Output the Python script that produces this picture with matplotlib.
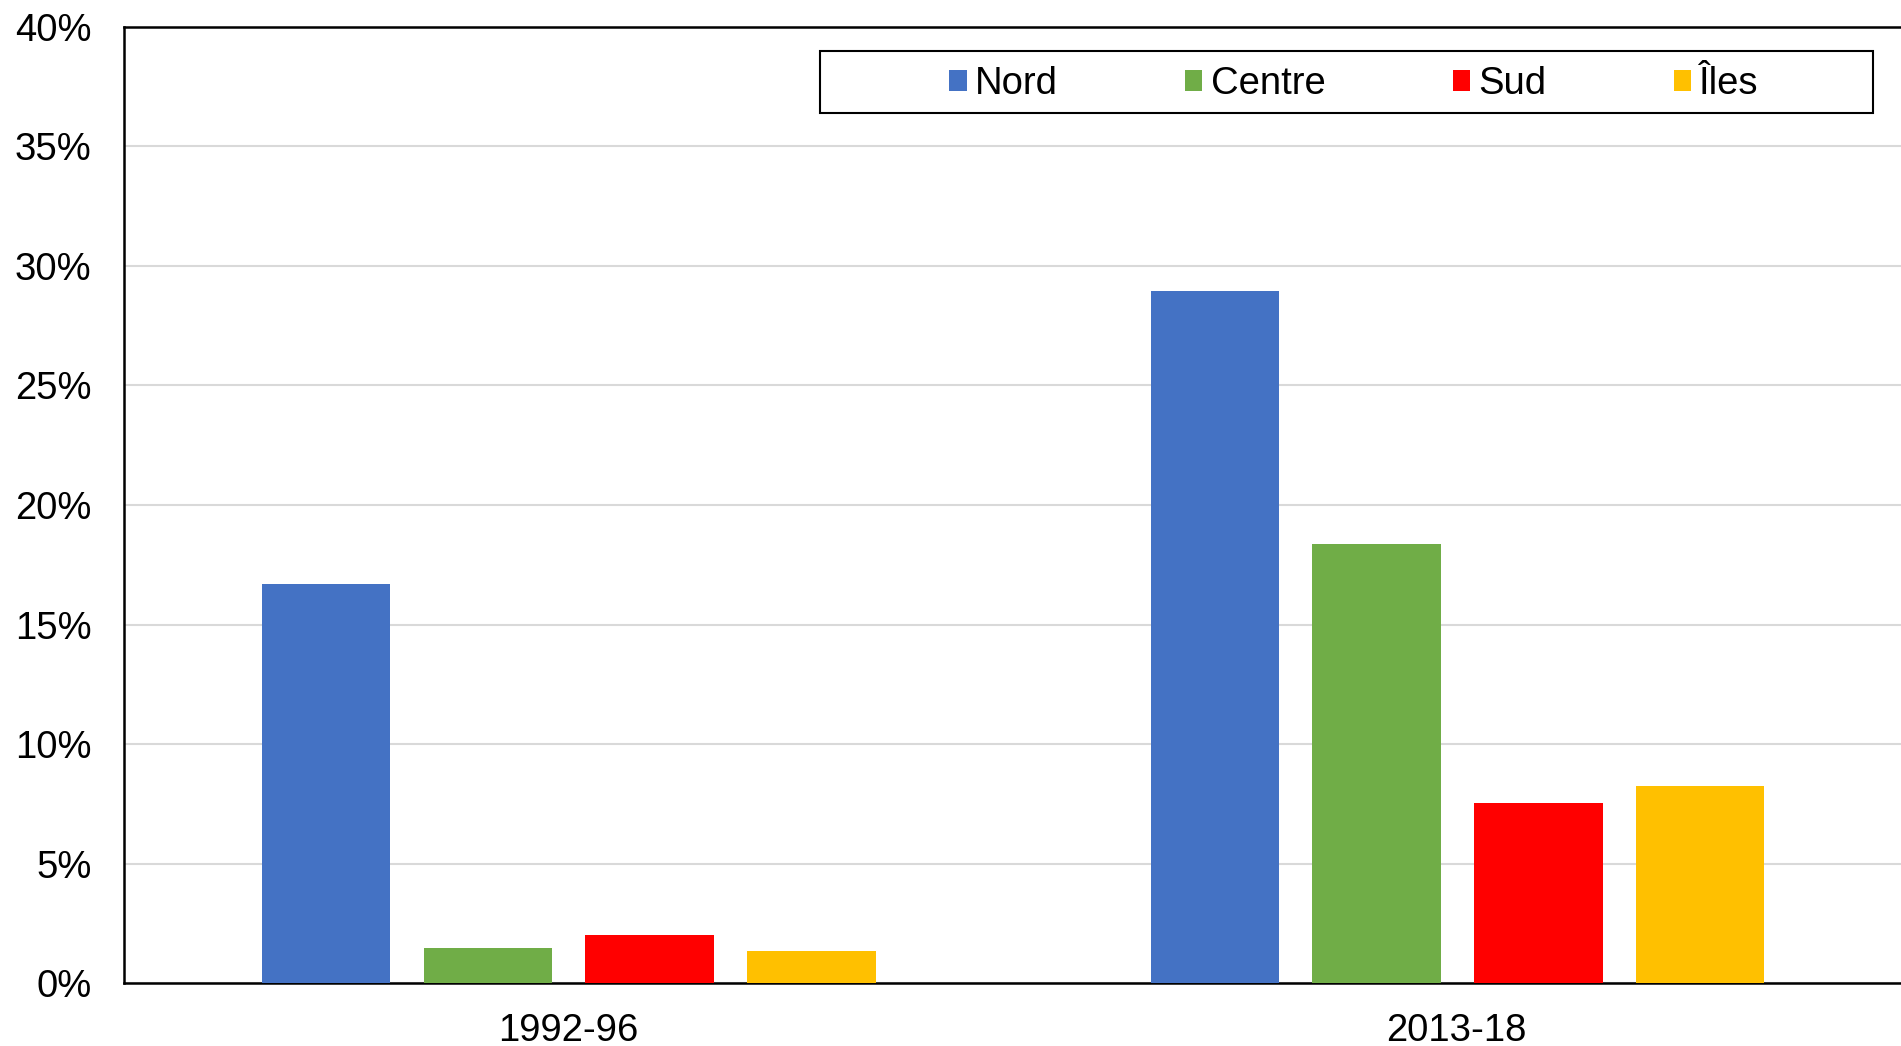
import matplotlib
matplotlib.use("Agg")
import matplotlib.pyplot as plt
import numpy as np
from matplotlib.patches import Rectangle
from matplotlib.ticker import FuncFormatter

plt.rcParams["font.family"] = ["Liberation Sans", "DejaVu Sans"]

# data
periods = ["1992-96", "2013-18"]
regions = ["Nord", "Centre", "Sud", "Îles"]
nord = [16.7, 28.95]
centre = [1.47, 18.35]
sud = [2.03, 7.55]
iles = [1.33, 8.26]
colors = ["#4472C4", "#70AD47", "#FF0000", "#FFC000"]

W, H = 1901, 1046
fig = plt.figure(figsize=(W / 100, H / 100), dpi=100, facecolor="white")
ax = fig.add_axes([123.5 / W, (H - 983.3) / H, (W - 123.5) / W, (983.3 - 26.7) / H])

x = np.arange(len(periods))
bw = 0.1444
step = 0.182
series = [nord, centre, sud, iles]
for i, (vals, name, col) in enumerate(zip(series, regions, colors)):
    ax.bar(x + (i - 1.5) * step + 0.001, vals, width=bw, color=col, label=name, zorder=3)

ax.set_xlim(-0.5, 1.5)
ax.set_ylim(0, 40)
ax.set_yticks(np.arange(0, 41, 5))
ax.yaxis.set_major_formatter(FuncFormatter(lambda v, p: f"{v:.0f}%"))
ax.set_xticks(x)
ax.set_xticklabels(periods)
ax.tick_params(axis="both", length=0, labelsize=27.5, colors="black")
ax.tick_params(axis="y", pad=23)
ax.tick_params(axis="x", pad=21.5)

ax.grid(axis="y", color="#d9d9d9", linewidth=1.5, zorder=0)
ax.set_axisbelow(True)
for s in ["left", "top", "bottom"]:
    ax.spines[s].set_color("black")
    ax.spines[s].set_linewidth(1.8)
ax.spines["right"].set_visible(False)

# legend box
fig.patches.append(Rectangle((820 / W, 1 - 113 / H), (1873 - 820) / W, 62 / H,
                             transform=fig.transFigure, fill=False,
                             edgecolor="black", linewidth=1.5))
fig.legend(loc="center", bbox_to_anchor=(1354 / W, 1 - 84 / H),
           ncol=4, frameon=False, fontsize=27.5, handlelength=0.45,
           handleheight=0.45, handletextpad=0.22, columnspacing=3.33)

fig.savefig("out.png", dpi=100, facecolor="white")
